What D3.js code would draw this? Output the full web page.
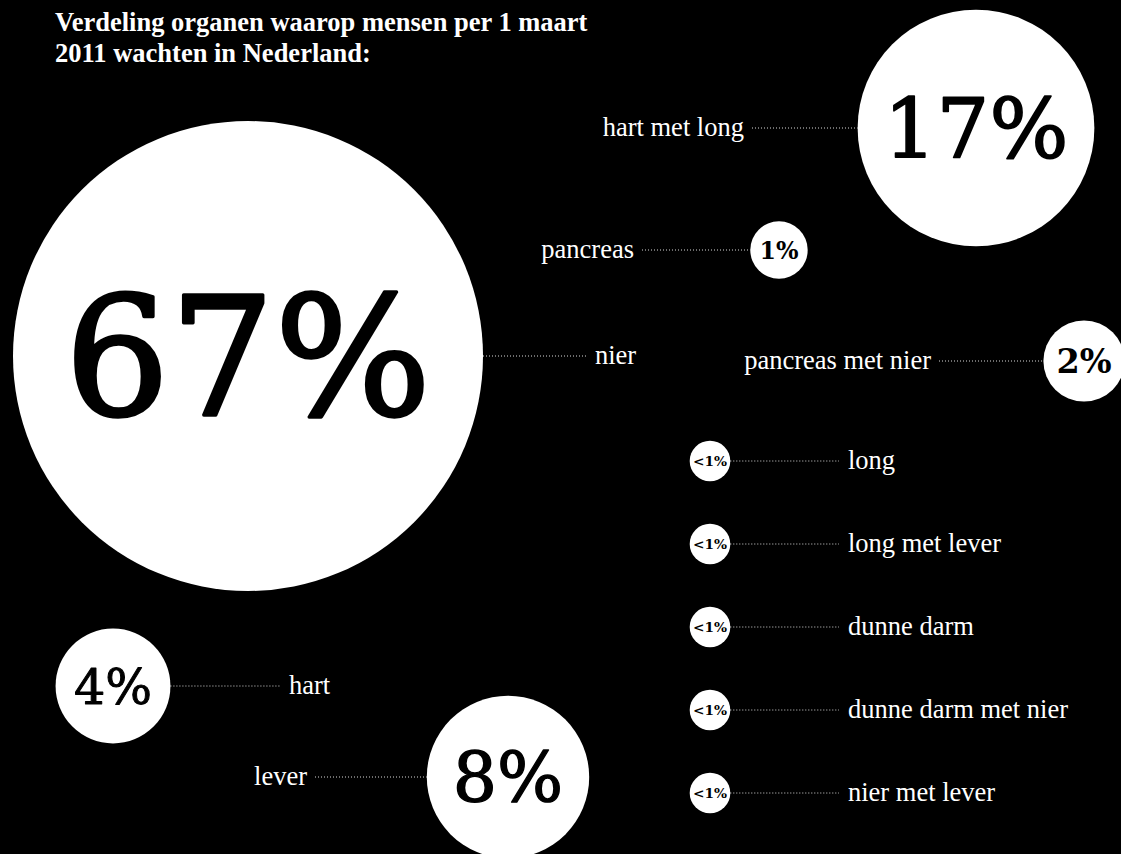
<!DOCTYPE html>
<html><head><meta charset="utf-8">
<script src="https://cdn.jsdelivr.net/npm/d3@7"></script>
<style>html,body{margin:0;padding:0;background:#000;overflow:hidden}</style>
</head><body>
<svg id="chart" width="1121" height="854"></svg>
<script>
// ---- data ----
const titleLines = ["Verdeling organen waarop mensen per 1 maart", "2011 wachten in Nederland:"];
const organs = ["nier", "hart met long", "pancreas", "pancreas met nier", "hart", "lever",
                "long", "long met lever", "dunne darm", "dunne darm met nier", "nier met lever"];
const values = [67, 17, 1, 2, 4, 8, 0.5, 0.5, 0.5, 0.5, 0.5];
const valueLabels = ["67%", "17%", "1%", "2%", "4%", "8%", "<1%", "<1%", "<1%", "<1%", "<1%"];
const smallOrgans = ["long", "long met lever", "dunne darm", "dunne darm met nier", "nier met lever"];

// ---- layout (positions, separate from data) ----
const layout = {
  "nier":              {cx: 248, cy: 356, side: "right", labelX: 595},
  "hart met long":     {cx: 976, cy: 128, side: "left",  labelX: 744},
  "pancreas":          {cx: 779, cy: 250, side: "left",  labelX: 634},
  "pancreas met nier": {cx: 1084, cy: 361, side: "left", labelX: 931},
  "hart":              {cx: 113, cy: 686, side: "right", labelX: 289},
  "lever":             {cx: 508, cy: 777, side: "left",  labelX: 307}
};
const smallX = 710, smallLabelX = 848;
const smallY = d3.scalePoint().domain(smallOrgans).range([461, 793]);

const svg = d3.select("#chart");
svg.append("rect").attr("width", 1121).attr("height", 854).attr("fill", "#000");

const r = d3.scaleSqrt().domain([0, 67]).range([0, 235]);
const serif = "'Liberation Serif', 'DejaVu Serif', serif";
const numSerif = "'DejaVu Serif', 'Liberation Serif', serif";

// title
svg.append("g").selectAll("text").data(titleLines).join("text")
  .attr("x", 55).attr("y", (d, i) => 31 + i * 31)
  .attr("fill", "#fff").attr("font-family", serif).attr("font-weight", "bold")
  .attr("font-size", 26.5).text(d => d);

const data = organs.map((o, i) => {
  const small = smallOrgans.includes(o);
  const L = small ? {cx: smallX, cy: smallY(o), side: "right", labelX: smallLabelX} : layout[o];
  return {organ: o, value: values[i], label: valueLabels[i], ...L, r: r(values[i])};
});

const g = svg.append("g");
const items = g.selectAll("g.item").data(data).join("g").attr("class", "item");

// dotted leader lines
items.append("line")
  .attr("x1", d => d.side === "right" ? d.cx + d.r : d.labelX + 8)
  .attr("x2", d => d.side === "right" ? d.labelX - 9 : d.cx - d.r)
  .attr("y1", d => d.cy).attr("y2", d => d.cy)
  .attr("stroke", "#fff").attr("stroke-width", 1).attr("stroke-dasharray", "1,2")
  .attr("opacity", 0.85);

// circles
items.append("circle")
  .attr("cx", d => d.cx).attr("cy", d => d.cy).attr("r", d => d.r)
  .attr("fill", "#fff");

// value text (fit to circle)
items.append("text")
  .attr("x", d => d.cx).attr("y", d => d.cy)
  .attr("text-anchor", "middle")
  .attr("font-family", numSerif)
  .attr("font-weight", d => d.r < 45 ? "bold" : "normal")
  .attr("font-size", 100)
  .attr("fill", "#000")
  .text(d => d.label)
  .each(function(d) {
    const w = this.getComputedTextLength();
    const frac = d.label.length >= 3 ? (d.r < 25 ? 0.84 : 0.78) : 0.68;
    const fs = frac * 2 * d.r / w * 100;
    d3.select(this).attr("font-size", fs).attr("dy", "0.36em")
      .attr("stroke", "#000").attr("stroke-linejoin", "round")
      .attr("stroke-width", d.r < 45 ? 0 : fs * 0.02);
  });

// organ labels
items.append("text")
  .attr("x", d => d.labelX).attr("y", d => d.cy)
  .attr("dy", "0.32em")
  .attr("text-anchor", d => d.side === "right" ? "start" : "end")
  .attr("font-family", serif).attr("font-size", 26.5)
  .attr("fill", "#fff")
  .text(d => d.organ);
</script>
</body></html>
